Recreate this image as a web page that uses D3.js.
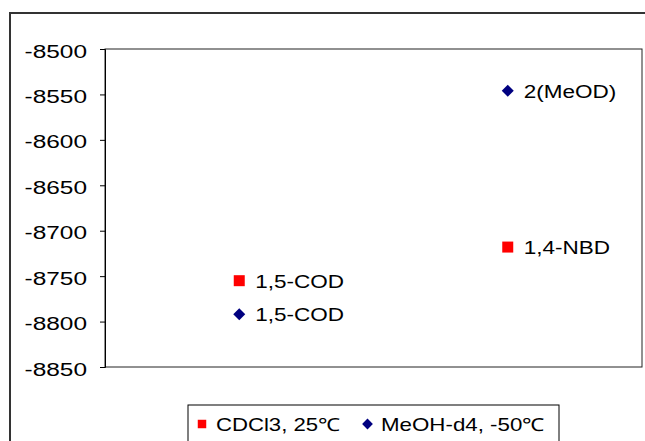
<!DOCTYPE html>
<html><head><meta charset="utf-8">
<script src="https://cdn.jsdelivr.net/npm/d3@7"></script>
<style>body{margin:0;background:#fff}svg{display:block}</style>
</head><body>
<svg id="c" width="645" height="441"></svg>
<script>
const categories = ["1", "2"];
const seriesNames = ["CDCl3, 25\u2103", "MeOH-d4, -50\u2103"];
const cdcl3Values = [-8755, -8718];
const cdcl3Labels = ["1,5-COD", "1,4-NBD"];
const meohValues = [-8792, -8546];
const meohLabels = ["1,5-COD", "2(MeOD)"];
const yTicks = [-8500, -8550, -8600, -8650, -8700, -8750, -8800, -8850];

(function() {
const svg = d3.select("#c");
const FONT = "'Liberation Sans', Arial, sans-serif";
const SX = 1.25;
const pL = 105, pR = 642, pT = 49, pB = 367;

const y = d3.scaleLinear().domain([-8850, -8500]).range([pB, pT]);
const x = d3.scaleBand().domain(categories).range([pL, pR]).padding(0);

// outer border
svg.append("rect").attr("x", 10).attr("y", 13).attr("width", 660).attr("height", 460)
  .attr("fill", "none").attr("stroke", "#333").attr("stroke-width", 2);

// plot area
svg.append("rect").attr("x", pL).attr("y", pT).attr("width", pR - pL).attr("height", pB - pT)
  .attr("fill", "#fff").attr("stroke", "#222").attr("stroke-width", 1);

// y axis
const yAxis = d3.axisLeft(y).tickValues(yTicks).tickSize(5).tickFormat(d => String(d));
const gy = svg.append("g").attr("transform", `translate(${pL},0)`).call(yAxis);
gy.select(".domain").attr("stroke", "#000");
gy.selectAll(".tick line").attr("stroke", "#000");
gy.selectAll(".tick text").remove();
gy.selectAll(".tick").each(function(d) {
  d3.select(this).append("text")
    .attr("transform", `translate(-18,8) scale(1.32,1)`)
    .attr("text-anchor", "end")
    .attr("fill", "#000")
    .style("font-family", FONT).style("font-size", "18.5px")
    .text(String(d));
});

const cx = d => x(d) + x.bandwidth() / 2;
const squareSym = d3.symbol().type(d3.symbolSquare).size(121);
const diamondSym = d3.symbol().type(d3.symbolSquare).size(72);

function drawSeries(values, labels, sym, color, rot) {
  const g = svg.append("g");
  categories.forEach((c, i) => {
    g.append("path").attr("d", sym()).attr("fill", color)
      .attr("transform", `translate(${cx(c)},${y(values[i])}) rotate(${rot})`);
    g.append("text")
      .attr("transform", `translate(${cx(c) + 16},${y(values[i]) + 7}) scale(${SX},1)`)
      .style("font-family", FONT).style("font-size", "18px").attr("fill", "#000")
      .text(labels[i]);
  });
}
drawSeries(cdcl3Values, cdcl3Labels, squareSym, "#FF0000", 0);
drawSeries(meohValues, meohLabels, diamondSym, "#000080", 45);

// legend
const lg = svg.append("g");
lg.append("rect").attr("x", 188).attr("y", 405).attr("width", 371).attr("height", 60)
  .attr("fill", "#fff").attr("stroke", "#000").attr("stroke-width", 1);
lg.append("path").attr("d", d3.symbol().type(d3.symbolSquare).size(72)()).attr("fill", "#FF0000")
  .attr("transform", "translate(202,424)");
lg.append("text").attr("transform", `translate(216,431) scale(1.23,1)`)
  .style("font-family", FONT).style("font-size", "18px").text(seriesNames[0]);
lg.append("path").attr("d", d3.symbol().type(d3.symbolSquare).size(58)()).attr("fill", "#000080")
  .attr("transform", "translate(367.5,424) rotate(45)");
lg.append("text").attr("transform", `translate(381,431) scale(1.24,1)`)
  .style("font-family", FONT).style("font-size", "18px").text(seriesNames[1]);
})();
</script>
</body></html>
